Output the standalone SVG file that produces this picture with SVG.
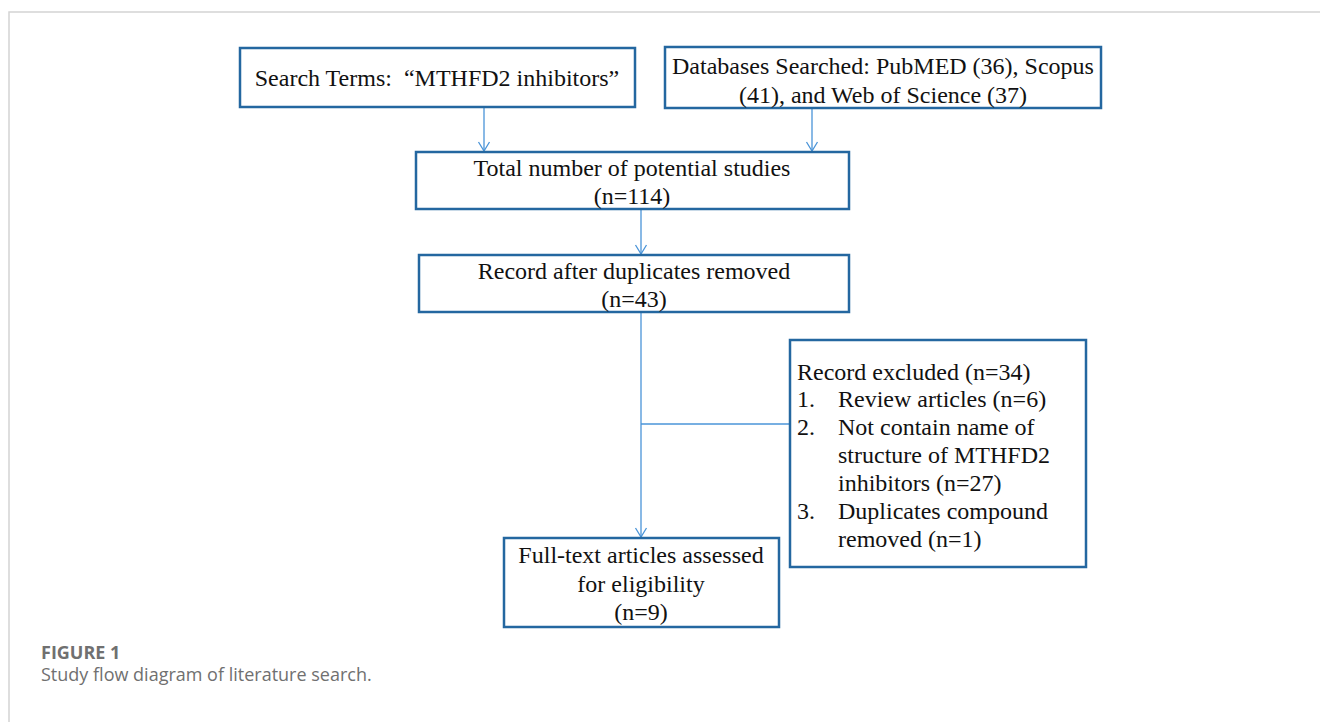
<svg xmlns="http://www.w3.org/2000/svg" width="1320" height="722" viewBox="0 0 1320 722">
<defs>
<style>
.box{fill:#fff;stroke:#2467a0;stroke-width:2.5}
.t{font-family:"Liberation Serif",serif;font-size:24px;fill:#111}
.c{text-anchor:middle}
.ln{stroke:#4a94d8;stroke-width:1.3;fill:none}
.cap{font-family:"Open Sans","Noto Sans",sans-serif;font-size:18px;fill:#707070}
</style>
<marker id="ah" markerWidth="12" markerHeight="14" refX="10" refY="7" orient="auto" markerUnits="userSpaceOnUse" viewBox="0 0 12 14">
<path d="M1,1.5 L10,7 L1,12.5" fill="none" stroke="#4a94d8" stroke-width="1.3"/>
</marker>
</defs>
<rect width="1320" height="722" fill="#fff"/>
<path d="M9,722 V12 H1320" fill="none" stroke="#d4d4d4" stroke-width="1.5"/>
<g id="connectors">
<line class="ln" x1="484" y1="108" x2="484" y2="151" marker-end="url(#ah)"/>
<line class="ln" x1="812" y1="108" x2="812" y2="151" marker-end="url(#ah)"/>
<line class="ln" x1="641" y1="209" x2="641" y2="254" marker-end="url(#ah)"/>
<line class="ln" x1="641" y1="312" x2="641" y2="537" marker-end="url(#ah)"/>
<line class="ln" x1="641" y1="424" x2="790" y2="424"/>
</g>
<g id="search">
<rect class="box" x="240" y="48" width="395" height="59"/>
<text class="t c" x="437" y="86" xml:space="preserve" style="white-space:pre">Search Terms:  “MTHFD2 inhibitors”</text>
</g>
<g id="databases">
<rect class="box" x="665" y="47" width="436" height="61"/>
<text class="t c" x="883" y="74">Databases Searched: PubMED (36), Scopus</text>
<text class="t c" x="883" y="103">(41), and Web of Science (37)</text>
</g>
<g id="total">
<rect class="box" x="416" y="152" width="433" height="57"/>
<text class="t c" x="632" y="176">Total number of potential studies</text>
<text class="t c" x="632" y="204">(n=114)</text>
</g>
<g id="dedup">
<rect class="box" x="419" y="255" width="430" height="57"/>
<text class="t c" x="634" y="279">Record after duplicates removed</text>
<text class="t c" x="634" y="307">(n=43)</text>
</g>
<g id="excluded">
<rect class="box" x="790" y="340" width="296" height="227"/>
<text class="t" x="797" y="380">Record excluded (n=34)</text>
<text class="t" x="797" y="407">1.</text><text class="t" x="838" y="407">Review articles (n=6)</text>
<text class="t" x="797" y="435">2.</text><text class="t" x="838" y="435">Not contain name of</text>
<text class="t" x="838" y="463">structure of MTHFD2</text>
<text class="t" x="838" y="491">inhibitors (n=27)</text>
<text class="t" x="797" y="519">3.</text><text class="t" x="838" y="519">Duplicates compound</text>
<text class="t" x="838" y="547">removed (n=1)</text>
</g>
<g id="fulltext">
<rect class="box" x="504" y="538" width="275" height="89"/>
<text class="t c" x="641" y="563">Full-text articles assessed</text>
<text class="t c" x="641" y="592">for eligibility</text>
<text class="t c" x="641" y="620">(n=9)</text>
</g>
<g id="caption">
<text class="cap" x="41" y="659" font-weight="bold">FIGURE 1</text>
<text class="cap" x="41" y="681">Study flow diagram of literature search.</text>
</g>
</svg>
